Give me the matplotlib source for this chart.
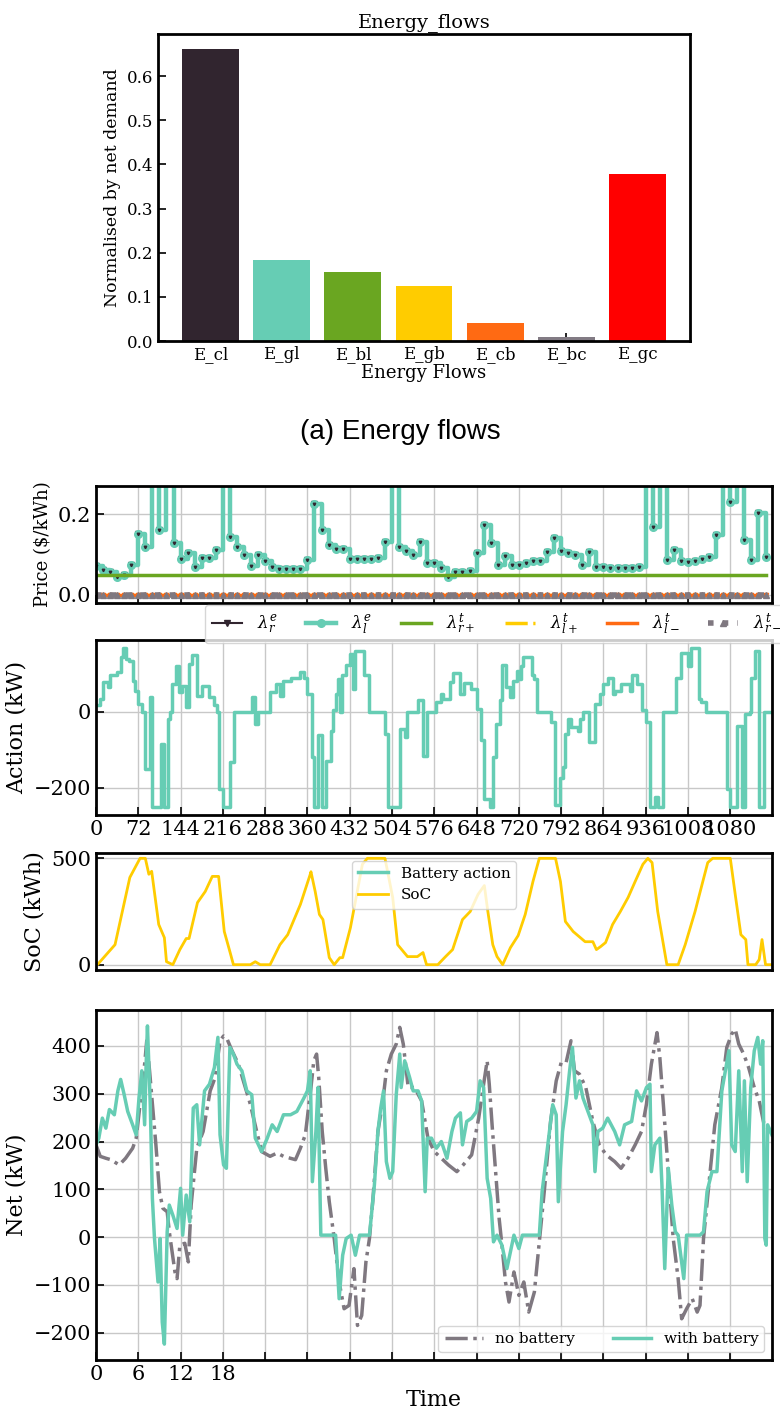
import numpy as np
import matplotlib
matplotlib.use("Agg")
import matplotlib.pyplot as plt

plt.rcParams['font.family'] = ['DejaVu Serif']
plt.rcParams['mathtext.fontset'] = 'dejavuserif'

# ---- bar chart data ----
flow_names = ['E_cl', 'E_gl', 'E_bl', 'E_gb', 'E_cb', 'E_bc', 'E_gc']
flow_values = [0.662, 0.183, 0.157, 0.125, 0.040, 0.008, 0.378]
flow_colors = ['#31252f', '#66cdb4', '#6aa621', '#ffcc00', '#ff6a13', '#827b84', '#ff0000']

# ---- hourly prices ($/kWh) ----
price_l = [0.072, 0.062, 0.058, 0.045, 0.050, 0.074, 0.152, 0.120, 0.32, 0.160,
           0.30, 0.128, 0.090, 0.104, 0.070, 0.091, 0.091, 0.111, 0.32, 0.144,
           0.120, 0.100, 0.072, 0.100, 0.085, 0.070, 0.065, 0.065, 0.064, 0.064,
           0.086, 0.226, 0.160, 0.124, 0.115, 0.115, 0.090, 0.090, 0.090, 0.090,
           0.092, 0.131, 0.32, 0.119, 0.110, 0.100, 0.131, 0.080, 0.078, 0.066,
           0.045, 0.058, 0.058, 0.060, 0.104, 0.173, 0.128, 0.074, 0.096, 0.075,
           0.075, 0.080, 0.083, 0.085, 0.107, 0.140, 0.110, 0.105, 0.100, 0.074,
           0.107, 0.070, 0.068, 0.066, 0.066, 0.066, 0.066, 0.070, 0.32, 0.169,
           0.32, 0.086, 0.111, 0.085, 0.082, 0.085, 0.090, 0.095, 0.148, 0.32,
           0.230, 0.32, 0.136, 0.086, 0.202, 0.095]
tariff_r_plus = 0.05
tariff_l_plus = 0.0
tariff_l_minus = 0.0
tariff_r_minus = 0.0

# ---- battery action (kW), step breakpoints in hours ----
act_h = [0, 0.5, 1, 1.7, 2, 3, 3.5, 3.9, 4.3, 4.7,
         5.2, 5.6, 6, 6.5, 7, 7.6, 8, 9.2, 9.6, 10.2,
         10.5, 10.8, 11.4, 11.8, 12.2, 12.7, 13.2, 13.6, 14.3, 15,
         16, 16.8, 17.2, 17.5, 18, 19, 19.6, 22.1, 22.5, 23,
         24.7, 25.5, 26.1, 26.6, 27.7, 28.9, 29.5, 30, 30.6, 31,
         31.5, 32.1, 32.6, 33.3, 33.6, 34, 34.4, 34.6, 34.9, 35.5,
         36, 36.4, 36.8, 38, 38.8, 41, 41.4, 43.1, 43.8, 44.1,
         45.7, 46.4, 46.9, 48.2, 48.9, 49.3, 50.2, 50.6, 51.7, 52.2,
         53.2, 54, 54.6, 55.1, 55.9, 56.3, 56.8, 57.3, 57.6, 58.2,
         58.8, 59.2, 59.7, 60, 60.3, 60.6, 61.8, 62.2, 62.6, 64.6,
         65.1, 65.8, 66.3, 66.6, 67, 67.4, 68.4, 68.7, 69.1, 70,
         70.8, 71.5, 71.9, 72.7, 73.4, 73.6, 74.5, 75.7, 76, 76.7,
         77.5, 78, 78.6, 79.3, 79.8, 80.5, 82.3, 83, 84, 84.4,
         85.6, 85.9, 86.6, 89.5, 90, 90.9, 91.6, 92.1, 92.8, 93,
         93.5, 94.1, 94.8, 95.9]
act_kw = [16, 33, 77, 64, 95, 103, 143, 167, 137, 133,
          80, 55, 20, 0, -151, 38, -251, -86, -251, -20,
          0, 71, 119, 50, 68, 11, 126, 148, 41, 68,
          38, 16, 0, -204, -251, -133, 0, 38, -32, 0,
          51, 71, 41, 80, 89, 103, 89, 47, -120, -251,
          -63, -251, -129, -50, 3, 47, 85, 0, 97, 123,
          150, 59, 159, 95, 0, -59, -251, -46, -68, 0,
          29, -116, 0, 24, 47, 33, 77, 100, 47, 74,
          59, 7, -76, -230, -251, -120, -32, 29, 123, 64,
          38, 80, 106, 85, 119, 143, 97, 85, 0, -28,
          -245, -175, -145, -59, -19, -41, -50, -19, 0, -80,
          20, 47, 71, 89, 47, 55, 71, 55, 95, 71,
          3, -28, -251, -225, -251, 0, 89, 155, 119, 167,
          33, 24, 0, -204, -251, -37, -251, -6, -2, 89,
          159, -251, 0, 0]

# ---- state of charge (kWh) ----
soc_h = [0, 0.2, 2.7, 4.8, 6.25, 7.0, 7.5, 7.9, 8.9, 9.7,
         10.0, 10.9, 11.9, 12.8, 13.2, 14.4, 15.5, 16.5, 17.4, 18.2,
         19.0, 19.5, 21.9, 22.6, 23.3, 24.7, 26.1, 27.2, 29.0, 30.4,
         30.5, 31.1, 31.7, 32.2, 33.1, 33.8, 34.6, 35.0, 36.1, 36.8,
         37.8, 38.5, 41.0, 42.1, 42.8, 43.5, 44.2, 45.6, 46.4, 46.9,
         48.5, 49.6, 50.6, 52.0, 53.1, 54.2, 55.1, 55.6, 56.3, 56.9,
         57.7, 58.8, 59.9, 60.9, 62.0, 62.9, 65.2, 65.9, 66.6, 67.7,
         69.4, 70.5, 71.0, 71.6, 72.3, 73.3, 74.4, 75.5, 76.5, 77.6,
         78.3, 78.9, 79.7, 81.0, 82.6, 83.6, 85.0, 86.1, 86.8, 87.5,
         90.0, 90.7, 91.5, 92.2, 92.5, 93.6, 94.1, 94.5, 95.0, 95.9]
soc_kwh = [0, 0, 94, 410, 500, 500, 425, 439, 189, 127,
           14, 0, 71, 123, 123, 292, 344, 415, 415, 156,
           61, 0, 0, 14, 0, 0, 94, 141, 283, 425,
           437, 344, 236, 212, 33, 0, 33, 33, 174, 297,
           472, 500, 500, 316, 94, 66, 38, 38, 57, 0,
           0, 38, 71, 212, 250, 330, 372, 250, 94, 38,
           0, 80, 137, 236, 391, 500, 500, 391, 203, 156,
           108, 108, 71, 85, 104, 189, 250, 316, 391, 472,
           500, 480, 250, 0, 0, 94, 250, 391, 480, 500,
           500, 330, 141, 118, 0, 0, 24, 118, 0, 0]

# ---- net demand without battery (kW) ----
nb_h = [0, 0.6, 1.4, 2.1, 3.3, 4.2, 5.2, 5.7, 6.4, 6.9,
        7.2, 7.6, 8.1, 8.5, 9.0, 9.5, 10.1, 10.4, 11.2, 11.5,
        11.9, 12.6, 13.1, 13.5, 14.3, 15.2, 16.2, 16.9, 17.6, 18.1,
        18.5, 19.3, 20.2, 21.2, 21.9, 22.8, 23.5, 24.7, 25.7, 26.6,
        27.6, 28.3, 29.0, 29.7, 30.5, 30.9, 31.3, 31.6, 32.1, 32.6,
        33.1, 33.8, 34.5, 35.2, 35.9, 36.6, 37.1, 37.7, 38.3, 38.8,
        39.3, 40.0, 40.7, 41.2, 41.9, 42.6, 43.1, 43.6, 44.3, 45.2,
        46.2, 46.7, 47.1, 48.0, 49.0, 50.0, 51.2, 52.1, 53.3, 54.3,
        55.0, 55.5, 55.8, 56.2, 56.7, 57.2, 57.6, 58.1, 58.6, 59.3,
        60.0, 60.7, 61.4, 62.2, 62.9, 63.6, 64.5, 65.3, 66.0, 66.7,
        67.4, 67.9, 68.6, 69.5, 70.5, 71.4, 72.4, 73.6, 74.5, 75.5,
        76.5, 77.4, 78.1, 78.8, 79.6, 80.0, 80.5, 81.2, 81.9, 82.6,
        83.1, 83.8, 84.6, 85.3, 85.7, 86.2, 86.9, 87.8, 88.8, 89.5,
        90.2, 90.7, 91.2, 91.9, 92.6, 93.4, 94.1, 94.8, 95.9]
nb_kw = [193, 169, 165, 162, 151, 165, 186, 207, 298, 362,
         411, 348, 263, 193, 95, 60, 53, 11, -73, -87,
         -17, -13, -52, 67, 186, 221, 306, 334, 411, 421,
         418, 390, 362, 313, 278, 221, 179, 169, 176, 169,
         165, 162, 186, 214, 313, 369, 383, 334, 221, 144,
         74, -3, -94, -150, -143, -66, -185, -164, -52, -3,
         81, 221, 285, 348, 383, 404, 439, 404, 313, 313,
         285, 242, 207, 179, 165, 151, 137, 151, 172, 249,
         320, 369, 320, 235, 137, 39, -17, -94, -136, -73,
         -122, -94, -157, -115, -10, 95, 242, 327, 365, 365,
         411, 348, 341, 313, 242, 193, 172, 158, 144, 165,
         193, 221, 278, 362, 428, 376, 278, 137, -3, -87,
         -171, -150, -129, -157, -143, -3, 102, 235, 313, 397,
         425, 435, 404, 383, 355, 313, 285, 235, 221]

# ---- net demand with battery (kW) ----
wb_h = [0, 0.4, 0.9, 1.4, 1.9, 2.6, 3.1, 3.5, 4.0, 4.5,
        5.2, 5.7, 6.1, 6.5, 6.9, 7.1, 7.3, 7.7, 8.0, 8.3,
        8.8, 9.1, 9.4, 9.7, 10.1, 10.4, 10.9, 11.5, 12.0, 12.3,
        12.8, 13.3, 13.8, 14.3, 14.7, 15.4, 16.1, 16.8, 17.3, 17.6,
        18.1, 18.5, 19.0, 19.5, 20.0, 20.7, 21.4, 22.1, 22.6, 23.5,
        24.3, 25.0, 25.7, 26.6, 27.6, 28.5, 29.5, 30.0, 30.4, 30.7,
        31.2, 31.5, 31.9, 34.0, 34.5, 35.0, 35.5, 36.2, 36.8, 37.4,
        38.8, 39.5, 40.0, 40.4, 40.8, 41.2, 41.7, 42.1, 42.6, 43.1,
        43.3, 43.8, 44.5, 45.0, 45.7, 46.2, 46.7, 47.0, 47.6, 48.3,
        49.0, 49.8, 50.5, 51.0, 51.7, 52.0, 52.6, 53.3, 54.0, 54.5,
        55.0, 55.5, 56.0, 56.4, 56.9, 57.6, 58.3, 58.8, 59.3, 60.0,
        60.5, 62.9, 63.3, 64.1, 64.8, 65.3, 65.6, 66.2, 66.7, 67.2,
        67.6, 68.1, 68.6, 69.1, 69.8, 70.5, 70.8, 71.2, 71.9, 72.6,
        73.6, 74.3, 75.0, 76.0, 76.7, 77.4, 78.1, 78.6, 78.8, 79.3,
        80.0, 80.3, 80.7, 81.2, 81.7, 82.2, 82.6, 83.4, 83.8, 85.7,
        86.2, 86.7, 87.4, 88.1, 88.8, 89.3, 89.8, 90.2, 90.7, 91.2,
        91.7, 92.0, 92.4, 92.9, 93.4, 93.9, 94.3, 94.6, 94.9, 95.1,
        95.3, 95.9]
wb_kw = [193, 207, 249, 228, 267, 256, 306, 330, 298, 263,
         235, 214, 291, 348, 235, 355, 442, 277, 81, -3,
         -94, -3, -178, -224, 11, 67, 46, 18, 102, 4,
         88, 32, 270, 277, 193, 306, 320, 355, 418, 214,
         151, 144, 397, 383, 362, 348, 306, 298, 207, 179,
         207, 235, 221, 256, 256, 263, 291, 306, 348, 116,
         221, 313, 4, 4, -129, -38, -3, 4, -38, 4,
         4, 109, 221, 270, 306, 158, 123, 137, 298, 383,
         313, 369, 334, 306, 306, 285, 95, 207, 207, 186,
         200, 165, 221, 249, 260, 193, 242, 249, 263, 327,
         313, 123, 81, -10, 4, -17, -66, -31, 4, -24,
         4, 4, 95, 193, 277, 256, 74, 221, 277, 348,
         397, 291, 327, 291, 263, 235, 137, 221, 228, 249,
         221, 193, 235, 242, 306, 285, 313, 320, 137, 193,
         207, 109, -66, 144, 67, 11, 4, -87, 4, 4,
         11, 95, 137, 137, 306, 348, 390, 193, 179, 348,
         137, 327, 116, 313, 390, 418, 362, 411, -3, -17,
         235, 214]

STEPS_PER_HOUR = 12
N_STEPS = 1152
time_ticks = np.arange(0, N_STEPS, 72)
teal = '#66cdb4'
grey = '#7f7880'

W, H = 780, 1412


def box(l, t, r, b):
    # pixel box (top-left origin) -> figure fraction
    return [l / W, 1 - b / H, (r - l) / W, (b - t) / H]


def style(ax, lw=2):
    for s in ax.spines.values():
        s.set_linewidth(lw)
        s.set_color('black')
    ax.tick_params(direction='in', length=6, width=1.2, labelsize=15)


fig = plt.figure(figsize=(W / 100, H / 100), dpi=100)

# ---------------- (a) energy flows ----------------
ax0 = fig.add_axes(box(158, 34, 690, 341))
ax0.set_axisbelow(True)
ax0.bar(flow_names, flow_values, width=0.8, color=flow_colors)
style(ax0)
ax0.tick_params(labelsize=12)
ax0.set_title('Energy_flows', fontsize=14, pad=5)
ax0.set_xlabel('Energy Flows', fontsize=13, labelpad=1)
ax0.set_ylabel('Normalised by net demand', fontsize=12.5)
fig.text(400 / W, 1 - 432 / H, '(a) Energy flows', ha='center', va='center',
         fontsize=20, family=['Liberation Sans', 'DejaVu Sans'])

# ---------------- price ----------------
hours = np.arange(len(price_l)) * STEPS_PER_HOUR
ax1 = fig.add_axes(box(96, 486, 772, 603))
n = len(price_l)
ax1.plot(hours, price_l, color='#31252f', lw=1.5, marker='v', ms=4,
         drawstyle='steps-post', label=r'$\lambda^e_r$')
ax1.plot(hours, price_l, color=teal, lw=3.2, marker='o', ms=5.5,
         drawstyle='steps-post', label=r'$\lambda^e_l$')
ax1.plot(hours, price_l, color='#31252f', lw=0, marker='v', ms=1.8)
ax1.plot(hours, np.full(n, tariff_r_plus), color='#6aa621', lw=2.5,
         label=r'$\lambda^t_{r+}$')
ax1.plot(hours, np.full(n, tariff_l_plus), color='#ffcc00', lw=2.5,
         ls='-.', label=r'$\lambda^t_{l+}$')
ax1.plot(hours, np.full(n, tariff_l_minus), color='#ff6a13', lw=2.5,
         label=r'$\lambda^t_{l-}$')
ax1.plot(hours, np.full(n, tariff_l_minus), color='#ff6a13', lw=0,
         marker='v', ms=3)
ax1.plot(hours, np.full(n, tariff_r_minus), color=grey, lw=4, ls=':',
         marker='^', ms=5, label=r'$\lambda^t_{r-}$')
ax1.set_xlim(0, N_STEPS - 1)
ax1.set_ylim(-0.02, 0.27)
ax1.set_yticks([0.0, 0.2])
ax1.set_xticks(time_ticks)
ax1.set_xticklabels([])
ax1.grid(True, color='#c8c8c8', lw=1)
style(ax1)
ax1.set_ylabel('Price ($/kWh)', fontsize=13)
handles, labels = ax1.get_legend_handles_labels()
ax1.legend(handles, labels, loc='upper left', bbox_to_anchor=(0.161, -0.015),
           ncol=6, fontsize=12, handlelength=1.8, handletextpad=0.9,
           columnspacing=1.75, frameon=True, borderaxespad=0)

# ---------------- action ----------------
ax2 = fig.add_axes(box(96, 640, 772, 815))
ax2.plot(np.array(act_h) * STEPS_PER_HOUR, act_kw, color=teal, lw=2.5,
         drawstyle='steps-post')
ax2.set_xlim(0, N_STEPS - 1)
ax2.set_yticks([-200, 0])
ax2.set_xticks(time_ticks)
ax2.set_xticklabels([str(t) for t in time_ticks])
ax2.grid(True, color='#c8c8c8', lw=1)
style(ax2)
ax2.set_ylabel('Action (kW)', fontsize=16)
ax2.set_zorder(-1)

# ---------------- SoC ----------------
ax3 = fig.add_axes(box(96, 853, 772, 970))
ax3.plot([], [], color=teal, lw=2.5, label='Battery action')
ax3.plot(np.array(soc_h) * STEPS_PER_HOUR, soc_kwh, color='#ffcc00', lw=2,
         label='SoC')
ax3.set_xlim(0, N_STEPS - 1)
ax3.set_yticks([0, 500])
ax3.set_xticks([])
ax3.grid(True, axis='y', color='#c8c8c8', lw=1)
style(ax3)
ax3.set_ylabel('SoC (kWh)', fontsize=16)
ax3.legend(loc='upper center', fontsize=11, handlelength=2)

# ---------------- net demand ----------------
ax4 = fig.add_axes(box(96, 1010, 772, 1360))
ax4.plot(np.array(nb_h) * STEPS_PER_HOUR, nb_kw, color=grey, lw=2.5,
         ls='-.', label='no battery')
ax4.plot(np.array(wb_h) * STEPS_PER_HOUR, wb_kw, color=teal, lw=2.5,
         label='with battery')
ax4.set_xlim(0, N_STEPS - 1)
ax4.set_yticks([-200, -100, 0, 100, 200, 300, 400])
ax4.set_xticks(time_ticks)
ax4.set_xticklabels(['0', '6', '12', '18'] + [''] * (len(time_ticks) - 4))
ax4.grid(True, color='#c8c8c8', lw=1)
style(ax4)
ax4.set_ylabel('Net (kW)', fontsize=16)
ax4.set_xlabel('Time', fontsize=16)
ax4.legend(loc='lower right', ncol=2, fontsize=11, handlelength=2.5,
           columnspacing=2.5)

fig.savefig('out.png', dpi=100)
